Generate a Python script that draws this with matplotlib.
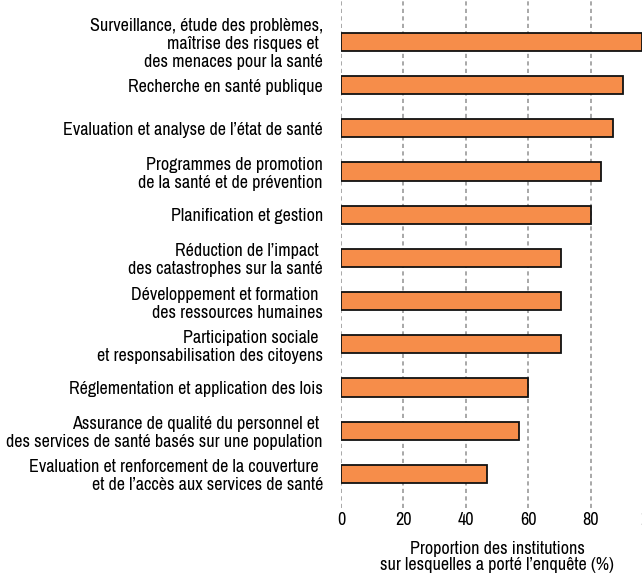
import matplotlib
matplotlib.use("Agg")
import matplotlib.pyplot as plt
import numpy as np

plt.rcParams['font.family'] = ['Archivo Narrow', 'Liberation Sans', 'DejaVu Sans']

categories = [
    "Surveillance, étude des problèmes,\nmaîtrise des risques et \ndes menaces pour la santé",
    "Recherche en santé publique",
    "Evaluation et analyse de l’état de santé",
    "Programmes de promotion\nde la santé et de prévention",
    "Planification et gestion",
    "Réduction de l’impact \ndes catastrophes sur la santé",
    "Développement et formation \ndes ressources humaines",
    "Participation sociale \net responsabilisation des citoyens",
    "Réglementation et application des lois",
    "Assurance de qualité du personnel et \ndes services de santé basés sur une population",
    "Evaluation et renforcement de la couverture \net de l’accès aux services de santé",
]
values = [96.5, 90.4, 87.2, 83.3, 80, 70.4, 70.4, 70.4, 59.9, 57.2, 46.9]
xticks = [0, 20, 40, 60, 80, 100]
xlabel = "Proportion des institutions\nsur lesquelles a porté l’enquête (%)"

FS = 13

fig = plt.figure(figsize=(6.42, 5.75), dpi=100)
# axes run past the right edge, like the cropped original
ax = fig.add_axes([341 / 642, 1 - 508 / 575, 312 / 642, 508 / 575])

y = np.arange(len(categories))
ax.barh(y, values, height=0.42, color="#F68D4A", edgecolor="#111111",
        linewidth=1.3, zorder=3)

ax.set_xlim(0, 100)
ax.set_ylim(len(categories) - 1 + 0.79, -0.97)
ax.set_xticks(xticks)
ax.set_xticklabels([str(t) for t in xticks], fontsize=FS)
ax.set_yticks(y)
ax.set_yticklabels(categories, fontsize=FS, multialignment="right",
                   linespacing=1.15)
ax.tick_params(axis="x", length=0, pad=3)
ax.tick_params(axis="y", length=0, pad=13)

for s in ax.spines.values():
    s.set_visible(False)
ax.grid(axis="x", color="#999999", linestyle=(0, (2.5, 2)), linewidth=1.2, zorder=0)
ax.grid(axis="y", visible=False)

ax.set_xlabel(xlabel, fontsize=FS, labelpad=9, linespacing=1.05)

fig.savefig("out.png", dpi=100)
